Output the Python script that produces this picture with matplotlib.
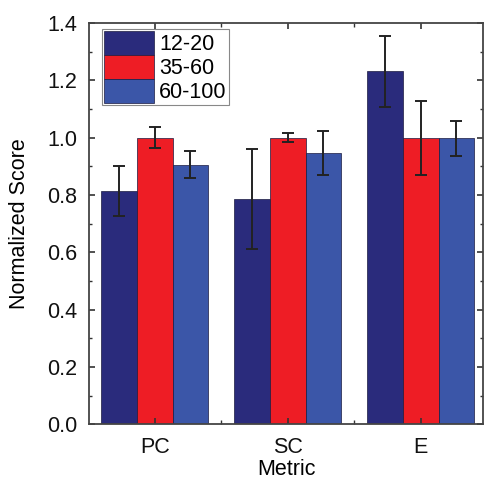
import matplotlib
matplotlib.use("Agg")
import matplotlib.pyplot as plt
from matplotlib.ticker import MultipleLocator, FixedLocator
import numpy as np

plt.rcParams['font.family'] = ['Liberation Sans', 'DejaVu Sans']

metrics = ['PC', 'SC', 'E']
groups = ['12-20', '35-60', '60-100']
scores = {
    '12-20': [0.815, 0.785, 1.232],
    '35-60': [1.0, 1.0, 1.0],
    '60-100': [0.905, 0.946, 0.998],
}
errors = {
    '12-20': [0.087, 0.175, 0.124],
    '35-60': [0.037, 0.016, 0.129],
    '60-100': [0.047, 0.077, 0.061],
}
colors = ['#2a2b7c', '#ee1d25', '#3b56a8']

fig = plt.figure(figsize=(4.86, 4.82), dpi=100)
ax = fig.add_axes([0.183, 0.120, 0.811, 0.832])

x = np.arange(len(metrics))
w = 0.268
for i, g in enumerate(groups):
    ax.bar(x + (i - 1) * w, scores[g], w, color=colors[i], edgecolor='#1a1a40',
           linewidth=0.5, label=g)
    ax.errorbar(x + (i - 1) * w, scores[g], yerr=errors[g], fmt='none',
                ecolor='#222222', elinewidth=1.4, capsize=4.5, capthick=1.4)

ax.set_xlim(-0.494, 2.468)
ax.set_ylim(0, 1.4)
ax.set_xticks(x)
ax.set_xticklabels(metrics)
ax.xaxis.set_minor_locator(FixedLocator([0.5, 1.5]))
ax.yaxis.set_major_locator(MultipleLocator(0.2))
ax.yaxis.set_minor_locator(MultipleLocator(0.1))
ax.yaxis.set_major_formatter(matplotlib.ticker.FormatStrFormatter('%.1f'))

ax.tick_params(axis='both', which='both', labelsize=15.5, colors='#333333',
               labelcolor='#111111')
ax.tick_params(axis='x', which='both', direction='in', top=True)
ax.tick_params(axis='x', which='major', length=4, width=1.2, pad=9)
ax.tick_params(axis='x', which='minor', length=3, width=1)
ax.tick_params(axis='y', which='both', direction='in', right=True, left=True)
ax.tick_params(axis='y', which='major', length=4, width=1.2, pad=8.5)
ax.tick_params(axis='y', which='minor', length=2.5, width=1)

for s in ax.spines.values():
    s.set_linewidth(1.3)
    s.set_color('#444444')

ax.set_ylabel('Normalized Score', fontsize=15.5, labelpad=12)
ax.set_xlabel('Metric', fontsize=15.5, labelpad=1)

leg = ax.legend(loc='upper left', bbox_to_anchor=(0.028, 0.99), fontsize=15.5,
                handlelength=2.3, handleheight=1.3, labelspacing=0.0,
                borderpad=0.1, handletextpad=0.25, borderaxespad=0.1,
                fancybox=False, edgecolor='#888888', framealpha=1)
leg.get_frame().set_linewidth(0.8)

fig.savefig('out.png', dpi=100)
